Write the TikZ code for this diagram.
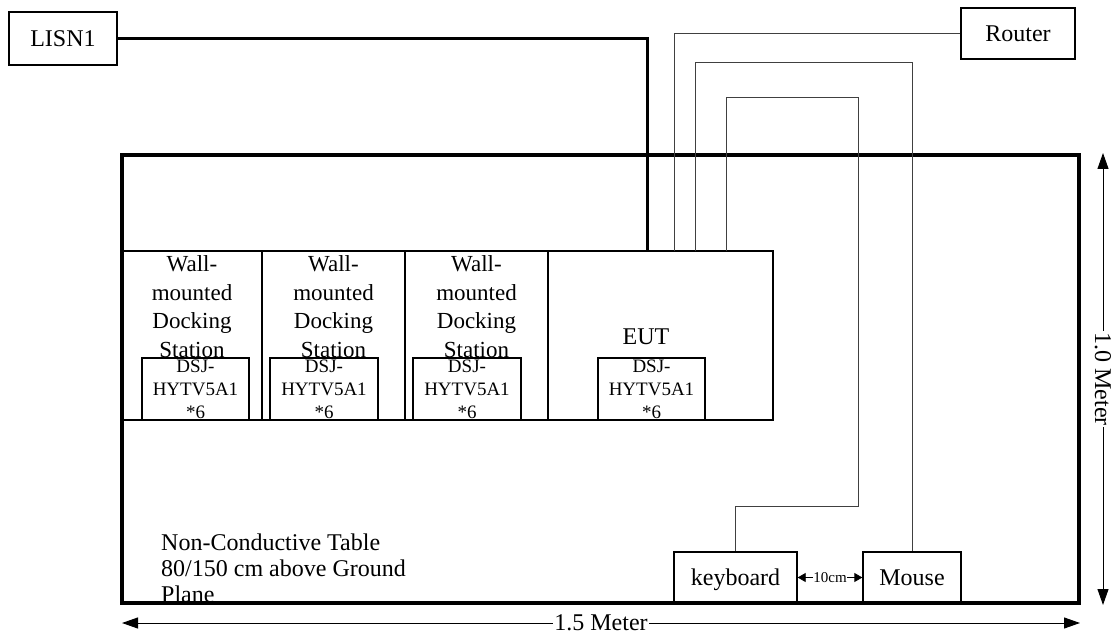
\documentclass[tikz,border=0pt]{standalone}
\usepackage{fontspec}
\setmainfont{Liberation Serif}
\usetikzlibrary{arrows.meta}

\begin{document}
\begin{tikzpicture}[x=1pt,y=-1pt,
  box/.style={draw,line width=1.3pt,inner sep=0pt},
  lbl/.style={font=\fontsize{24}{26}\selectfont},
  walltext/.style={font=\fontsize{23}{28.7}\selectfont,align=center,inner sep=0pt,anchor=north},
  modbox/.style={box,minimum height=62,align=center,font=\fontsize{19}{23}\selectfont},
  power/.style={line width=3pt},
  cable/.style={draw=black!75,line width=0.9pt},
  dim/.style={line width=1pt,{Triangle[length=16pt,width=11pt]}-{Triangle[length=16pt,width=11pt]}},
  gap/.style={line width=0.8pt,{Triangle[length=8pt,width=9pt]}-{Triangle[length=8pt,width=9pt]}}]
  \useasboundingbox (0,0) rectangle (1114,639);

  % table note
  \node[lbl,anchor=north west,align=left,inner sep=0pt] (note) at (161,534)
    {Non-Conductive Table\\80/150 cm above Ground\\Plane};

  % table
  \node[box,line width=3.2pt,minimum width=957,minimum height=448] (table) at (600.5,379) {};

  % docking stations and EUT
  \foreach \n/\x/\w/\mx/\mw in {1/192/140/195.5/107, 2/333.5/143/324/108, 3/476.5/143/467/108}{
    \node[box,minimum width=\w,minimum height=169] (dock\n) at (\x,335.5) {};
    \node[walltext] at ([yshift=-5pt]dock\n.north) {Wall-\\mounted\\Docking\\Station};
    \node[modbox,minimum width=\mw] (mod\n) at (\mx,389) {DSJ-\\HYTV5A1\\*6};
  }
  \node[box,minimum width=225,minimum height=169] (eut) at (660.5,335.5) {};
  \node[lbl] (euttext) at (646,337) {EUT};
  \node[modbox,minimum width=107] (mod4) at (651.5,389) {DSJ-\\HYTV5A1\\*6};

  % peripherals
  \node[box,lbl,minimum width=108,minimum height=53] (lisn) at (63,38.5) {LISN1};
  \node[box,lbl,minimum width=114,minimum height=51] (router) at (1018,33.5) {Router};
  \node[box,lbl,minimum width=123,minimum height=51,text depth=0pt] (kbd) at (735.5,577.5) {keyboard};
  \node[box,lbl,minimum width=98,minimum height=51] (mouse) at (912,577.5) {Mouse};

  % ports on top of the EUT
  \coordinate (pw) at (647,251);
  \coordinate (pr) at (674,251);
  \coordinate (pm) at (695,251);
  \coordinate (pk) at (726,251);

  \draw[power] (lisn.east) -| (pw);
  \draw[cable] (router.west) -| (pr);
  \draw[cable] (pm) -- (695,62) -| (mouse.north);
  \draw[cable] (pk) -- (726,97) -| (858,506) -| (kbd.north);

  \draw[gap] (kbd.east) -- (mouse.west)
    node[midway,fill=white,inner sep=0.5pt,font=\fontsize{15}{17}\selectfont] {10cm};

  % dimensions
  \coordinate (hl) at (122,623);
  \coordinate (hr) at (1080,623);
  \coordinate (vt) at (1103,153);
  \coordinate (vb) at (1103,605);
  \draw[dim] (hl) -- (hr) node[midway,fill=white,inner sep=1pt,lbl] {1.5 Meter};
  \draw[dim] (vt) -- (vb) node[midway,fill=white,inner sep=1pt,lbl,rotate=-90] {1.0 Meter};
\end{tikzpicture}
\end{document}
